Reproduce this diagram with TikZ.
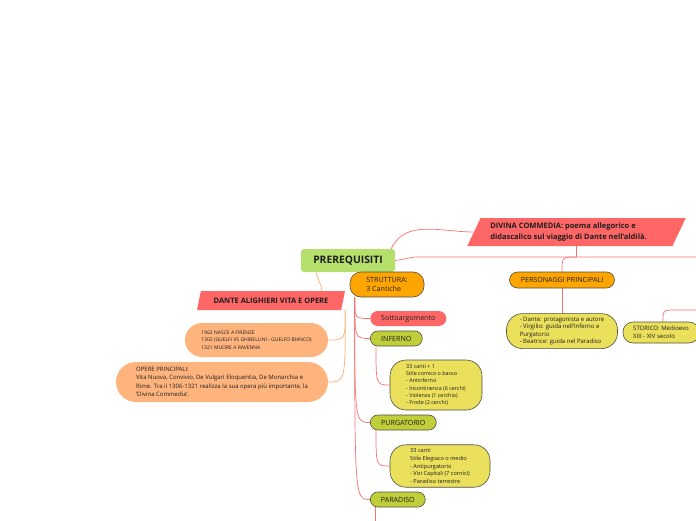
\documentclass[tikz,border=0pt]{standalone}
\usepackage{fontspec}
\setmainfont{Open Sans}
\usetikzlibrary{positioning, shapes.geometric, backgrounds}

\definecolor{rootgreen}{RGB}{180,224,107}
\definecolor{bannerred}{RGB}{255,102,102}
\definecolor{topicorange}{RGB}{255,165,0}
\definecolor{canticagreen}{RGB}{192,206,58}
\definecolor{detailyellow}{RGB}{234,224,92}
\definecolor{lifepeach}{RGB}{255,180,125}
\definecolor{linkred}{RGB}{250,112,112}
\definecolor{edgegrey}{RGB}{80,80,64}
\definecolor{inkdark}{RGB}{30,30,30}

\begin{document}
\begin{tikzpicture}[
  x=1pt, y=1pt, text=inkdark,
  root/.style={fill=rootgreen, rounded corners=3pt, minimum width=94pt, minimum height=23pt, font=\fontsize{10.3}{12}\selectfont\bfseries},
  banner/.style={trapezium, trapezium stretches=true, fill=bannerred, inner sep=1pt, align=left, font=\fontsize{7.5}{11.5}\selectfont\bfseries},
  topic/.style={draw=edgegrey, line width=0.6pt, fill=topicorange, align=left, font=\fontsize{7.1}{8.5}\selectfont},
  cantica/.style={draw=edgegrey, line width=0.6pt, fill=canticagreen, rounded corners=7.5pt, minimum height=15pt, anchor=west, font=\fontsize{7.1}{8}\selectfont},
  detail/.style={draw=edgegrey, line width=0.6pt, fill=detailyellow, align=left},
  life/.style={fill=lifepeach, align=left},
  link/.style={draw=linkred, line width=0.7pt},
  lifelink/.style={draw=lifepeach, line width=0.8pt}
]
\useasboundingbox (0,0) rectangle (696,-520);

\node[root] (prereq) at (348,-260.5) {PREREQUISITI};
\node[banner, trapezium left angle=60, trapezium right angle=120, minimum width=219pt, minimum height=28pt] (divina) at (576.5,-232)
  {DIVINA COMMEDIA: poema allegorico e\\didascalico sul viaggio di Dante nell'aldilà.\hspace*{16pt}};
\node[banner, trapezium left angle=67, trapezium right angle=113, minimum width=148pt, minimum height=19pt] (dante) at (271,-300.5)
  {DANTE ALIGHIERI VITA E OPERE};

\node[life, rounded corners=17pt, minimum width=143pt, minimum height=34pt, font=\fontsize{5}{7.5}\selectfont] (vita) at (256.5,-340)
  {1962 NASCE A FIRENZE\\1302 (GUELFI VS GHIBELLINI - GUELFO BIANCO)\\1321 MUORE A RAVENNA};
\node[life, rounded corners=20pt, minimum width=212pt, minimum height=40pt, font=\fontsize{6}{8.4}\selectfont] (opere) at (222,-382)
  {OPERE PRINCIPALI:\\Vita Nuova, Convivio, De Vulgari Eloquentia, De Monarchia e\\Rime. Tra il 1306-1321 realizza la sua opera più importante, la\\'Divina Commedia'.};

\node[topic, rounded corners=11pt, minimum width=74pt, minimum height=25pt] (strutt) at (387,-284.5) {STRUTTURA:\\3 Cantiche};
\node[cantica, draw=none, fill=bannerred, minimum width=76pt] (sotto) at (370,-318.5) {Sottoargomento};
\node[cantica, minimum width=52pt] (inferno) at (370,-338.5) {INFERNO};
\node[detail, rounded corners=16pt, minimum width=92pt, minimum height=50pt, font=\fontsize{5.4}{7.3}\selectfont] (infdet) at (436,-385)
  {33 canti + 1\\Stile comico o basso\\- Antinferno\\- Incontinenza (6 cerchi)\\- Violenza (1 cerchio)\\- Frode (2 cerchi)};
\node[cantica, minimum width=66pt] (purg) at (370,-422.5) {PURGATORIO};
\node[detail, rounded corners=16pt, minimum width=100pt, minimum height=42pt, font=\fontsize{5.6}{7.9}\selectfont] (purgdet) at (440,-466)
  {33 canti\\Stile Elegiaco o medio\\- Antipurgatorio\\- Vizi Capitali (7 cornici)\\- Paradiso terrestre};
\node[cantica, minimum width=55pt] (parad) at (370,-499.5) {PARADISO};

\node[topic, rounded corners=8pt, minimum width=105pt, minimum height=16pt] (perso) at (562,-280) {PERSONAGGI PRINCIPALI};
\node[detail, rounded corners=16pt, minimum width=111pt, minimum height=35pt, font=\fontsize{6}{7.3}\selectfont, below=25pt of perso] (persdet)
  {- Dante: protagonista e autore\\- Virgilio: guida nell'Inferno e\\Purgatorio\\- Beatrice: guida nel Paradiso};
\node[detail, rounded corners=10pt, minimum width=76pt, minimum height=21pt, font=\fontsize{6}{8.4}\selectfont] (storico) at (661,-332.5)
  {STORICO: Medioevo\\XIII - XIV secolo};

\coordinate (rail) at (418,-257);
\coordinate (railend) at (700,-257);
\coordinate (divjoin) at (divina.center |- rail);
\coordinate (stoend) at (700,-310);
\coordinate (strbase) at ([xshift=5pt]strutt.south west);
\coordinate (infbase) at ([xshift=6pt]inferno.south west);
\coordinate (purgbase) at ([xshift=6pt]purg.south west);
\coordinate (parbase) at ([xshift=5pt]parad.south west);
\coordinate (parend) at ([yshift=-20pt]parbase);
\coordinate (dantebase) at ([xshift=4pt]dante.bottom right corner);

\begin{scope}[on background layer]
\draw[link] ([xshift=-4pt]prereq.north east) to[out=65, in=180] (divina.west);
\draw[link] (prereq.east) to[out=5, in=180] (rail) -- (railend);
\draw[link] (divina.center |- divina.south) -- (divjoin);
\draw[link] (divjoin) .. controls (perso.north |- divjoin) .. (perso.north);
\draw[link] (perso.south) -- (persdet.north);
\draw[link] ([xshift=2pt]storico.north) .. controls ([xshift=2pt]storico.north |- stoend) .. ([xshift=14pt]storico.north |- stoend) -- (stoend);
\draw[lifelink] ([xshift=-32pt]prereq.south) to[out=-75, in=100] ([xshift=51pt]dante.north);
\draw[lifelink] (dantebase) .. controls (dantebase |- vita.east) .. (vita.east);
\draw[lifelink] (dantebase) .. controls (dantebase |- opere.east) .. (opere.east);
\draw[link] (strbase) .. controls (strbase |- sotto.west) .. (sotto.west);
\draw[link] (strbase) .. controls (strbase |- inferno.west) .. (inferno.west);
\draw[link] (strbase) .. controls (strbase |- purg.west) .. (purg.west);
\draw[link] (strbase) .. controls (strbase |- parad.west) .. (parad.west);
\draw[link] (infbase) .. controls (infbase |- infdet.west) .. (infdet.west);
\draw[link] (purgbase) .. controls (purgbase |- purgdet.west) .. (purgdet.west);
\draw[link] (parbase) -- (parend);
\end{scope}
\end{tikzpicture}
\end{document}
